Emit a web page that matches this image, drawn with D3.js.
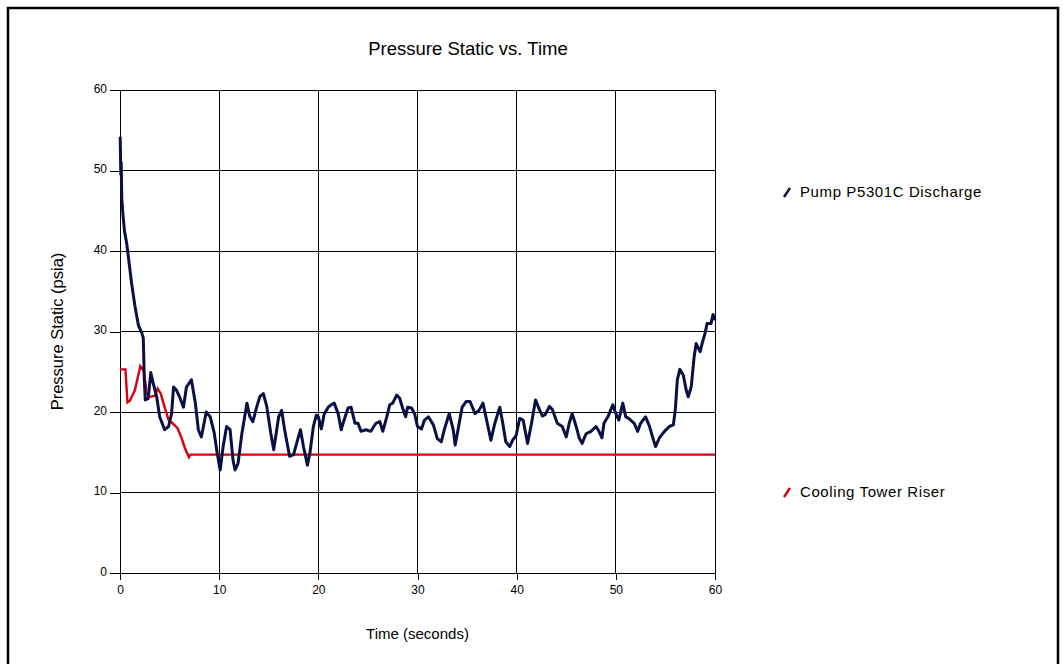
<!DOCTYPE html>
<html>
<head>
<meta charset="utf-8">
<script src="https://cdn.jsdelivr.net/npm/d3@7"></script>
<style>
  body { margin: 0; background: #fff; }
  svg { display: block; font-family: 'Liberation Sans', Arial, sans-serif; }
</style>
</head>
<body>
<div id="chart"></div>
<script>
// series (time in s, pressure in psia)
var pumpTime = [0.02, 0.08, 0.12, 0.18, 0.3, 0.45, 0.67, 0.94, 1.18, 1.5, 1.85, 2.2, 2.35, 2.45, 2.55, 2.85,
  3.1, 3.3, 3.7, 4.0, 4.5, 4.9, 5.2, 5.4, 5.7, 6.0, 6.4, 6.7, 7.2, 7.6, 7.9, 8.2, 8.7, 9.1, 9.5, 9.8,
  10.1, 10.4, 10.75, 11.1, 11.4, 11.6, 11.9, 12.3, 12.8, 13.1, 13.4, 13.8, 14.1, 14.45, 14.8, 15.2, 15.5,
  16.0, 16.3, 16.6, 17.1, 17.5, 17.9, 18.2, 18.5, 18.9, 19.15, 19.5, 19.8, 20.0, 20.3, 20.6, 21.0, 21.3,
  21.6, 22.0, 22.3, 22.6, 23.0, 23.3, 23.7, 24.0, 24.3, 24.8, 25.3, 25.8, 26.2, 26.5, 26.9, 27.2, 27.5,
  27.9, 28.2, 28.5, 28.8, 29.0, 29.4, 29.7, 30.0, 30.4, 30.7, 31.1, 31.6, 32.0, 32.4, 32.7, 33.2, 33.6,
  33.8, 34.1, 34.5, 34.9, 35.3, 35.8, 36.2, 36.6, 36.9, 37.4, 37.8, 38.3, 38.6, 38.9, 39.3, 39.6, 39.95,
  40.3, 40.65, 41.1, 41.5, 41.9, 42.3, 42.6, 42.9, 43.3, 43.6, 44.1, 44.6, 45.0, 45.3, 45.6, 46.0, 46.3,
  46.6, 47.0, 47.5, 48.0, 48.3, 48.6, 48.8, 49.2, 49.7, 50.0, 50.3, 50.7, 51.0, 51.3, 51.85, 52.2, 52.5,
  53.0, 53.4, 53.7, 54.0, 54.4, 54.9, 55.4, 55.8, 56.0, 56.2, 56.45, 56.8, 57.1, 57.3, 57.6, 57.9, 58.1,
  58.5, 58.7, 59.0, 59.2, 59.6, 59.8, 60.0];
var pumpPressure = [54.2, 49.5, 51.0, 46.5, 44.5, 42.5, 41.0, 38.3, 35.9, 33.2, 30.8, 29.8, 29.2, 24.0, 21.5, 21.7,
  24.9, 23.8, 21.9, 19.4, 17.8, 18.2, 19.8, 23.1, 22.7, 21.9, 20.6, 23.1, 24.0, 21.1, 17.8, 16.9, 20.0, 19.4, 17.4, 14.9,
  12.8, 15.7, 18.2, 17.8, 14.0, 12.8, 13.6, 17.4, 21.1, 19.4, 18.8, 20.7, 21.9, 22.3, 20.7, 17.4, 15.3,
  19.4, 20.2, 17.8, 14.5, 14.7, 16.5, 17.8, 15.7, 13.4, 14.9, 18.2, 19.6, 19.4, 17.9, 19.8, 20.6, 20.9,
  21.1, 19.8, 17.8, 19.0, 20.5, 20.6, 18.6, 18.6, 17.6, 17.8, 17.6, 18.6, 18.8, 17.6, 19.4, 20.9, 21.1,
  22.1, 21.7, 20.5, 19.4, 20.6, 20.5, 19.8, 18.2, 17.9, 19.0, 19.4, 18.4, 16.7, 16.3, 17.8, 19.8, 17.8,
  15.9, 17.9, 20.6, 21.3, 21.3, 19.8, 20.2, 21.1, 19.4, 16.5, 18.6, 20.6, 18.6, 16.3, 15.7, 16.5, 17.1,
  19.2, 19.0, 16.1, 18.6, 21.5, 20.3, 19.5, 19.7, 20.7, 20.3, 18.6, 18.2, 16.9, 18.6, 19.8, 18.2, 16.8,
  16.1, 17.3, 17.6, 18.2, 17.6, 16.8, 18.6, 19.4, 20.9, 19.8, 19.0, 21.1, 19.4, 19.2, 18.6, 17.6, 18.6,
  19.4, 18.2, 16.9, 15.7, 16.8, 17.6, 18.2, 18.4, 20.3, 24.0, 25.3, 24.6, 22.7, 21.9, 23.1, 26.9, 28.5,
  27.5, 28.5, 29.8, 31.0, 31.0, 32.1, 31.4];

var riserTime = [0, 0.55, 0.75, 1.0, 1.5, 1.85, 2.05, 2.4, 2.7, 3.0, 3.5, 3.8, 4.1, 4.5, 4.9, 5.3, 5.8, 6.2, 6.55, 6.95, 7.1, 60];
var riserPressure = [25.3, 25.3, 21.2, 21.4, 22.7, 24.6, 25.7, 25.1, 22.3, 21.9, 22.0, 22.9, 22.3, 20.6, 19.0, 18.6, 18.0, 16.8, 15.5, 14.4, 14.7, 14.7];

var seriesNames = ['Pump P5301C Discharge', 'Cooling Tower Riser'];
var xTicks = [0, 10, 20, 30, 40, 50, 60];
var yTicks = [0, 10, 20, 30, 40, 50, 60];

var width = 1064, height = 664;
var margin = { top: 90, right: 349, bottom: 91, left: 120 };
var plotW = width - margin.left - margin.right;
var plotH = height - margin.top - margin.bottom;

var svg = d3.select('#chart')
  .append('svg')
  .attr('width', width)
  .attr('height', height);

// outer frame
svg.append('rect')
  .attr('x', 8)
  .attr('y', 8)
  .attr('width', width - 14)
  .attr('height', height)
  .attr('fill', '#fff')
  .attr('stroke', '#000')
  .attr('stroke-width', 2.5);

// title sits a bit right of the plot centre in the original
svg.append('text')
  .attr('x', 468)
  .attr('y', 55)
  .attr('text-anchor', 'middle')
  .attr('font-size', '18.5px')
  .attr('fill', '#000')
  .text('Pressure Static vs. Time');

var chart = svg.append('g')
  .attr('transform', 'translate(' + margin.left + ',' + margin.top + ')');

var x = d3.scaleLinear().domain([0, 60]).range([0, plotW]);
var y = d3.scaleLinear().domain([0, 60]).range([plotH, 0]);

// grid
chart.append('g')
  .selectAll('line')
  .data(xTicks)
  .enter()
  .append('line')
  .attr('x1', function(d) { return x(d); })
  .attr('x2', function(d) { return x(d); })
  .attr('y1', 0)
  .attr('y2', plotH)
  .attr('stroke', '#000')
  .attr('stroke-width', 1)
  .attr('shape-rendering', 'crispEdges');
chart.append('g')
  .selectAll('line')
  .data(yTicks)
  .enter()
  .append('line')
  .attr('x1', 0)
  .attr('x2', plotW)
  .attr('y1', function(d) { return y(d); })
  .attr('y2', function(d) { return y(d); })
  .attr('stroke', '#000')
  .attr('stroke-width', 1)
  .attr('shape-rendering', 'crispEdges');

var xAxis = d3.axisBottom(x).tickValues(xTicks).tickSize(7).tickPadding(5);
var yAxis = d3.axisLeft(y).tickValues(yTicks).tickSize(10).tickPadding(3);

var gx = chart.append('g')
  .attr('transform', 'translate(0,' + plotH + ')')
  .call(xAxis);
var gy = chart.append('g').call(yAxis);
[gx, gy].forEach(function(g) {
  g.select('.domain').attr('stroke', '#000').attr('shape-rendering', 'crispEdges');
  g.selectAll('.tick line').attr('stroke', '#000').attr('shape-rendering', 'crispEdges');
  g.selectAll('.tick text')
    .attr('fill', '#000')
    .attr('font-size', '12px')
    .attr('font-family', "'Liberation Sans', Arial, sans-serif");
});
gy.selectAll('.tick text').attr('dy', '0.2em');

svg.append('text')
  .attr('x', margin.left + plotW / 2)
  .attr('y', 639)
  .attr('text-anchor', 'middle')
  .attr('font-size', '15px')
  .attr('fill', '#000')
  .text('Time (seconds)');

svg.append('text')
  .attr('transform', 'translate(63,' + (margin.top + plotH / 2) + ') rotate(-90)')
  .attr('text-anchor', 'middle')
  .attr('font-size', '16.5px')
  .attr('fill', '#000')
  .text('Pressure Static (psia)');

var line = d3.line()
  .x(function(d) { return x(d[0]); })
  .y(function(d) { return y(d[1]); });

var riser = d3.zip(riserTime, riserPressure);
var pump = d3.zip(pumpTime, pumpPressure);
var colors = ['#0a0f45', '#d6000f'];

chart.append('path')
  .datum(riser)
  .attr('fill', 'none')
  .attr('stroke', colors[1])
  .attr('stroke-width', 2.4)
  .attr('d', line);

chart.append('path')
  .datum(pump)
  .attr('fill', 'none')
  .attr('stroke', colors[0])
  .attr('stroke-width', 3)
  .attr('stroke-linejoin', 'round')
  .attr('d', line);

// legend
var legendY = [192, 492];
var legend = svg.selectAll('.legend')
  .data(seriesNames)
  .enter()
  .append('g')
  .attr('class', 'legend')
  .attr('transform', function(d, i) { return 'translate(784,' + legendY[i] + ')'; });
legend.append('line')
  .attr('x1', 0)
  .attr('y1', 5)
  .attr('x2', 6)
  .attr('y2', -4)
  .attr('stroke', function(d, i) { return colors[i]; })
  .attr('stroke-width', 2.4);
legend.append('text')
  .attr('x', 16)
  .attr('y', 5)
  .attr('font-size', '15px')
  .attr('letter-spacing', '0.6px')
  .attr('fill', '#000')
  .text(function(d) { return d; });
</script>
</body>
</html>
